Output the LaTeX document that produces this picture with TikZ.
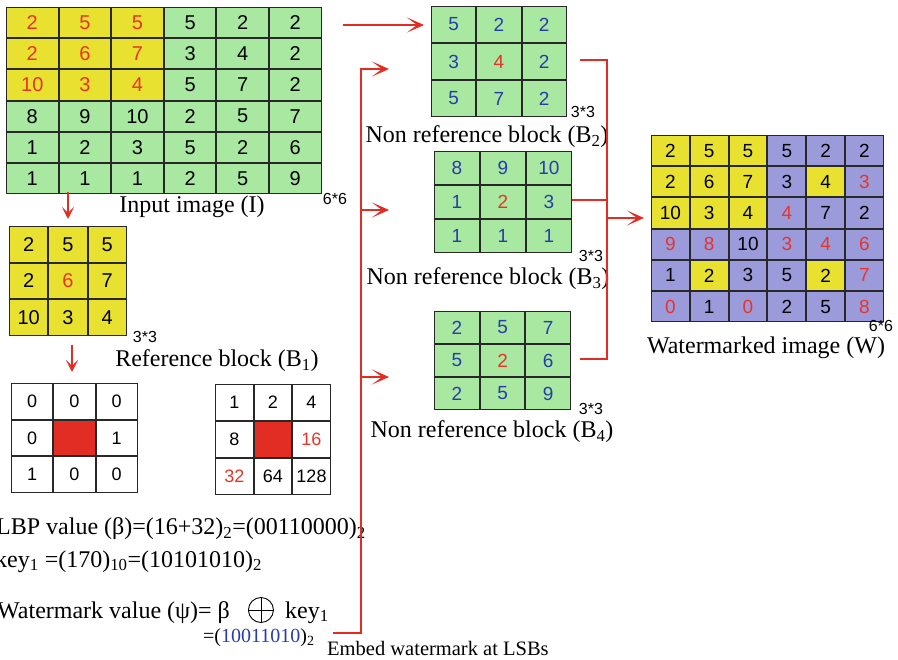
\documentclass[tikz,border=0pt]{standalone}
\usepackage{fontspec}
\setmainfont{Liberation Serif}
\newfontfamily\numfont{Liberation Sans}
\usetikzlibrary{matrix,arrows.meta,positioning}
\definecolor{colYel}{RGB}{233,225,48}
\definecolor{colGrn}{RGB}{168,232,160}
\definecolor{colPur}{RGB}{155,155,220}
\definecolor{colRed}{RGB}{232,52,40}
\definecolor{colBlu}{RGB}{40,60,172}
\definecolor{colLine}{RGB}{225,45,35}
\definecolor{colEdge}{RGB}{40,40,40}
\tikzset{
  cell/.style={draw=colEdge, line width=1pt, anchor=center, inner sep=0pt, outer sep=0pt,
    font=\numfont\fontsize{20}{20}\selectfont},
  numgrid/.style={matrix of nodes, column sep=0pt, row sep=0pt, inner sep=0pt, outer sep=0pt, anchor=north west},
  cy/.style={fill=colYel}, cg/.style={fill=colGrn}, cp/.style={fill=colPur}, cw/.style={fill=white},
  cx/.style={fill=colLine},
  tr/.style={text=colRed}, tb/.style={text=colBlu},
  lbl/.style={font=\fontsize{24}{28}\selectfont, anchor=base, inner sep=0pt},
  dimlbl/.style={font=\numfont\fontsize{16}{16}\selectfont, inner sep=0pt},
  eqlbl/.style={font=\fontsize{24}{28}\selectfont, anchor=base west, inner sep=0pt},
  redline/.style={draw=colLine, line width=1.8pt},
  bigtip/.style={-{Stealth[length=17pt,width=15pt,inset=10pt]}},
  smalltip/.style={-{Stealth[length=12pt,width=12pt,inset=6pt]}},
}
\begin{document}
\begin{tikzpicture}[x=1pt,y=-1pt]
\useasboundingbox[fill=white] (0,0) rectangle (898,660);

% Input image
\matrix (inp) [numgrid, nodes={cell,cg,minimum width=51.6pt,minimum height=30.2pt}] at (6,7) {
|[cy,tr]|2 & |[cy,tr]|5 & |[cy,tr]|5 & 5 & 2 & 2\\
|[cy,tr]|2 & |[cy,tr]|6 & |[cy,tr]|7 & 3 & 4 & 2\\
|[cy,tr]|10 & |[cy,tr]|3 & |[cy,tr]|4 & 5 & 7 & 2\\
8 & 9 & 10 & 2 & 5 & 7\\
1 & 2 & 3 & 5 & 2 & 6\\
1 & 1 & 1 & 2 & 5 & 9\\
};
\node[lbl] (inplbl) at (192,213) {Input image (I)};
\node[dimlbl] (inpdim) at (335,199) {6*6};

% Reference block
\matrix (ref) [numgrid, nodes={cell,cy,minimum width=38.3pt,minimum height=35.6pt}] at (9,226) {
2 & 5 & 5\\
2 & |[tr]|6 & 7\\
10 & 3 & 4\\
};
\node[dimlbl] (refdim) at (145,337) {3*3};
\node[lbl] (reflbl) at (217,367) {Reference block (B\textsubscript{1})};

% LBP grids
\matrix (lbpa) [numgrid, nodes={cell,cw,minimum width=41.3pt,minimum height=35.6pt,font=\numfont\fontsize{18}{18}\selectfont}] at (11,383) {
0 & 0 & 0\\
0 & |[cx]| & 1\\
1 & 0 & 0\\
};
\matrix (lbpb) [numgrid, nodes={cell,cw,minimum width=37.6pt,minimum height=36pt,font=\numfont\fontsize{18}{18}\selectfont}] at (215,384) {
1 & 2 & 4\\
8 & |[cx]| & |[tr]|16\\
|[tr]|32 & 64 & 128\\
};

% Equations
\node[eqlbl] (eqa) at (-4,535) {LBP value (β)=(16+32)\textsubscript{2}=(00110000)\textsubscript{2}};
\node[eqlbl] (eqb) at (-5,567) {key\textsubscript{1} =(170)\textsubscript{10}=(10101010)\textsubscript{2}};
\node[eqlbl] (eqc) at (-3,618) {Watermark value (ψ)= β};
\node[circle, draw=black, line width=0.9pt, minimum size=25pt, inner sep=0pt, anchor=west,
  path picture={\draw[line width=0.9pt] (path picture bounding box.north) -- (path picture bounding box.south)
  (path picture bounding box.west) -- (path picture bounding box.east);}] (xor) at (248,610) {};
\node[eqlbl] (eqd) at (285,618) {key\textsubscript{1}};
\node[font=\fontsize{20}{24}\selectfont, anchor=base west, inner sep=0pt] (wmv) at (203,642) {=(\textcolor{colBlu}{10011010})\textsubscript{2}};
\node[font=\fontsize{20.5}{24}\selectfont, anchor=base west, inner sep=0pt] (embed) at (327,655) {Embed watermark at LSBs};

% Non reference blocks
\matrix (bb) [numgrid, nodes={cell,cg,tb,minimum width=44.3pt,minimum height=36pt,font=\numfont\fontsize{19}{19}\selectfont}] at (431,6) {
5 & 2 & 2\\
3 & |[tr]|4 & 2\\
5 & 7 & 2\\
};
\node[dimlbl] (bbdim) at (583,112) {3*3};
\node[lbl] (bblbl) at (487,143) {Non reference block (B\textsubscript{2})};

\matrix (bc) [numgrid, nodes={cell,cg,tb,minimum width=45pt,minimum height=33pt,font=\numfont\fontsize{19}{19}\selectfont}] at (434,151) {
8 & 9 & 10\\
1 & |[tr]|2 & 3\\
1 & 1 & 1\\
};
\node[dimlbl] (bcdim) at (591,256) {3*3};
\node[lbl] (bclbl) at (488,285) {Non reference block (B\textsubscript{3})};

\matrix (bd) [numgrid, nodes={cell,cg,tb,minimum width=44.7pt,minimum height=32pt,font=\numfont\fontsize{19}{19}\selectfont}] at (434,311) {
2 & 5 & 7\\
5 & |[tr]|2 & 6\\
2 & 5 & 9\\
};
\node[dimlbl] (bddim) at (591,409) {3*3};
\node[lbl] (bdlbl) at (492,438) {Non reference block (B\textsubscript{4})};

% Watermarked image
\matrix (wm) [numgrid, nodes={cell,cp,minimum width=37.8pt,minimum height=30.2pt,font=\numfont\fontsize{19}{19}\selectfont}] at (651,135) {
|[cy]|2 & |[cy]|5 & |[cy]|5 & 5 & 2 & 2\\
|[cy]|2 & |[cy]|6 & |[cy]|7 & 3 & |[cy]|4 & |[tr]|3\\
|[cy]|10 & |[cy]|3 & |[cy]|4 & |[tr]|4 & 7 & 2\\
|[tr]|9 & |[tr]|8 & 10 & |[tr]|3 & |[tr]|4 & |[tr]|6\\
1 & |[cy]|2 & 3 & 5 & |[cy]|2 & |[tr]|7\\
|[tr]|0 & 1 & |[tr]|0 & 2 & 5 & |[tr]|8\\
};
\node[dimlbl] (wmdim) at (881,326) {6*6};
\node[lbl] (wmlbl) at (766,354) {Watermarked image (W)};

% Connectors
\coordinate (da0) at (68,192); \coordinate (da1) at (68,219);
\draw[redline,smalltip] (da0) -- (da1);
\coordinate (db0) at (72,345); \coordinate (db1) at (72,372);
\draw[redline,smalltip] (db0) -- (db1);

\coordinate (ta0) at (343,25); \coordinate (ta1) at (424,25);
\draw[redline,bigtip] (ta0) -- (ta1);

\coordinate (wmend) at (333,633);
\coordinate (ltop) at (361,69);
\coordinate (b2in) at (389,69);
\coordinate (lmid) at (361,210); \coordinate (b3in) at (389,210);
\coordinate (llow) at (361,377); \coordinate (b4in) at (389,377);
\draw[redline,bigtip] (wmend) -| (ltop) -- (b2in);
\draw[redline,bigtip] (lmid) -- (b3in);
\draw[redline,bigtip] (llow) -- (b4in);

\coordinate (r2a) at (580,60); \coordinate (rtop) at (607,60);
\coordinate (rbot) at (607,359); \coordinate (r4a) at (580,359);
\draw[redline] (r2a) -- (rtop) -- (rbot) -- (r4a);
\coordinate (r3a) at (607,200);
\draw[redline] (bc.east |- r3a) -- (r3a);
\coordinate (rout) at (607,218); \coordinate (wmin) at (644,218);
\draw[redline,bigtip] (rout) -- (wmin);
\end{tikzpicture}
\end{document}
